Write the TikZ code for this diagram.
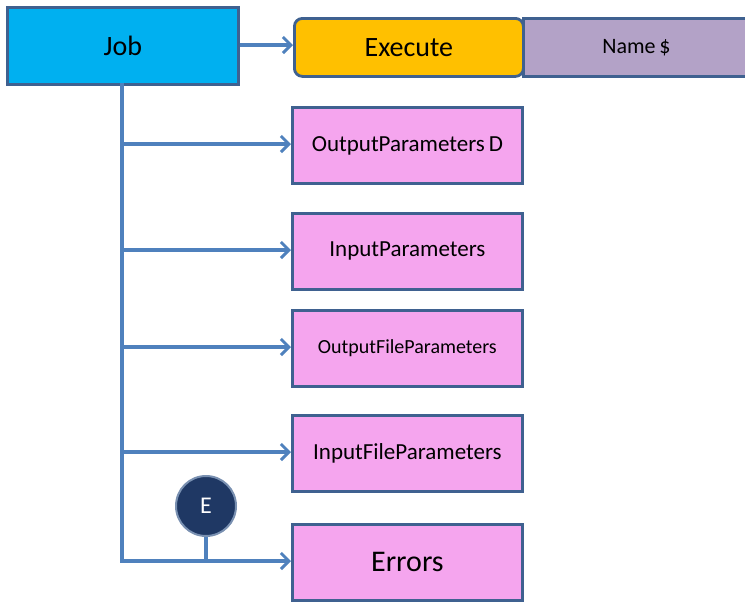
\documentclass[tikz,border=0pt]{standalone}
\usepackage{fontspec}
\setmainfont{Carlito}
\usetikzlibrary{arrows.meta}
\definecolor{jobc}{HTML}{00B0F0}
\definecolor{exec}{HTML}{FFC000}
\definecolor{namec}{HTML}{B3A2C7}
\definecolor{pinkc}{HTML}{F5A5EE}
\definecolor{bordc}{HTML}{3F6190}
\definecolor{linec}{HTML}{4F81BD}
\definecolor{ecirc}{HTML}{1F3864}
\tikzset{
  box/.style={draw=bordc, line width=2.8pt, inner sep=0pt, anchor=north west},
  pbox/.style={box, fill=pinkc, minimum width=230pt, minimum height=76pt},
  conn/.style={draw=linec, line width=3.2pt},
  arr/.style={conn, -{Straight Barb[length=8pt,width=16pt,line width=3pt]}},
}
\begin{document}
\begin{tikzpicture}[x=1pt,y=-1pt]
\useasboundingbox (0,0) rectangle (745,603);
\node[box, fill=jobc, minimum width=231pt, minimum height=77pt, font=\fontsize{28}{30}\selectfont] (job) at (6,6) {Job};
\node[box, fill=namec, minimum width=226pt, minimum height=58pt, font=\fontsize{22}{24}\selectfont] (name) at (522,17) {Name\,\$};
\node[box, fill=exec, rounded corners=8pt, minimum width=229pt, minimum height=58pt, font=\fontsize{28}{30}\selectfont] (exe) at (293,17) {Execute};
\node[pbox, font=\fontsize{23}{25}\selectfont] (op) at (291,106) {OutputParameters\,D};
\node[pbox, font=\fontsize{23}{25}\selectfont] (ip) at (291,212) {InputParameters};
\node[pbox, font=\fontsize{20}{22}\selectfont] (ofp) at (291,309) {OutputFileParameters};
\node[pbox, font=\fontsize{23}{25}\selectfont] (ifp) at (291,414) {InputFileParameters};
\node[pbox, font=\fontsize{30}{32}\selectfont] (err) at (291,523) {Errors};
\node[circle, draw=bordc!70, line width=2pt, fill=ecirc, text=white, minimum size=60pt, inner sep=0pt, font=\fontsize{24}{26}\selectfont] (e) at (206,506) {E};
\coordinate (t0) at (122,83);
\coordinate (t1) at (122,144);
\coordinate (t2) at (122,250);
\coordinate (t3) at (122,347);
\coordinate (t4) at (122,452);
\coordinate (t5) at (122,561);
\coordinate (ej) at (206,561);
\draw[arr] (job.east |- 0,45) -- (exe.west |- 0,45);
\draw[conn, line join=miter] (t0) -- (t5) -- (ej);
\draw[arr] (t1) -- (op.west |- t1);
\draw[arr] (t2) -- (ip.west |- t2);
\draw[arr] (t3) -- (ofp.west |- t3);
\draw[arr] (t4) -- (ifp.west |- t4);
\draw[arr] (ej) -- (err.west |- ej);
\draw[conn] (e.south) -- (ej);
\end{tikzpicture}
\end{document}
